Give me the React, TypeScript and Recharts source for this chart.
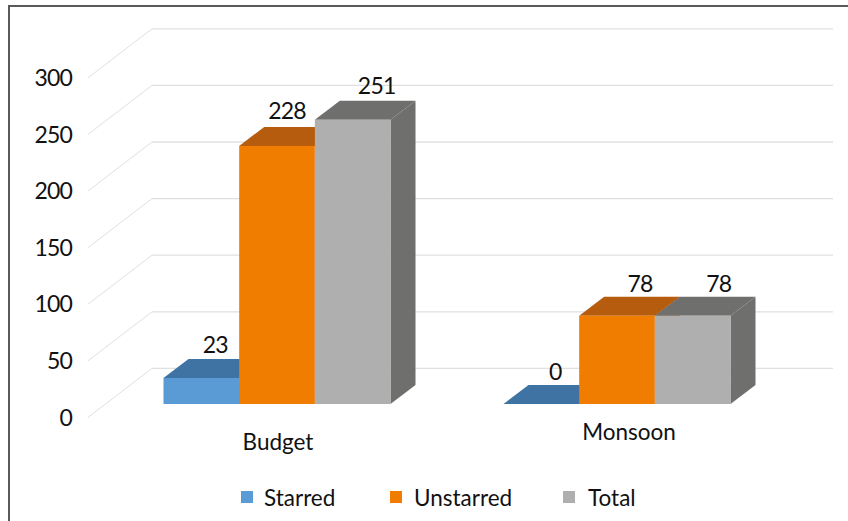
import React from "react";
import { BarChart, Bar, XAxis, YAxis, CartesianGrid, Legend, LabelList } from "recharts";

const categories = ["Budget", "Monsoon"];
const starred = [23, 0];
const unstarred = [228, 78];
const total = [251, 78];
const yTicks = [0, 50, 100, 150, 200, 250, 300];

const rows = categories.map((name, i) => ({
  name,
  Starred: starred[i],
  Unstarred: unstarred[i],
  Total: total[i],
}));

const FONT = "Lato, Carlito, Calibri, sans-serif";
const TEXT_SIZE = 22.5;
const NUMBER_SIZE = 23;
const NUMBER_SPACING = "-0.8px";
const DEPTH_X = 25;
const DEPTH_Y = 19;
const WALL_X = 64;
const WALL_Y = 49;
const WALL_RIGHT = 833;
const AXIS_OUT = 19.5;
const FRONT_LIFT = 13.4;

const STYLES: Record<string, { front: string; top: string; side: string }> = {
  Starred: { front: "#5B9BD5", top: "#3E73A3", side: "#3E73A3" },
  Unstarred: { front: "#F07D00", top: "#B55C0F", side: "#B55C0F" },
  Total: { front: "#AFAFAF", top: "#6F6F6D", side: "#6F6F6D" },
};

const LABEL_DX: Record<string, number[]> = {
  Starred: [14, 14],
  Unstarred: [10, 23],
  Total: [24, 26],
};
const LABEL_LIFT: Record<string, number[]> = {
  Starred: [34, 33],
  Unstarred: [35.5, 33],
  Total: [35, 33],
};
const CATEGORY_NUDGE: Record<string, { dx: number; y: number }> = {
  Budget: { dx: 0.5, y: 441 },
  Monsoon: { dx: 11.5, y: 431 },
};
const LEGEND_SPOTS: Record<string, { box: number; text: number }> = {
  Starred: { box: 241, text: 264 },
  Unstarred: { box: 390, text: 414 },
  Total: { box: 563, text: 588 },
};

function box(name: string) {
  const c = STYLES[name];
  return (p: any) => {
    const { x, width: w, height: h } = p;
    const y = p.y - FRONT_LIFT;
    const dx = DEPTH_X;
    const dy = DEPTH_Y;
    return (
      <g>
        <polygon points={`${x + w},${y} ${x + w + dx},${y - dy} ${x + w + dx},${y + h - dy} ${x + w},${y + h}`} fill={c.side} />
        <polygon points={`${x},${y} ${x + dx},${y - dy} ${x + w + dx},${y - dy} ${x + w},${y}`} fill={c.top} />
        <rect x={x} y={y} width={w} height={Math.max(h, 0)} fill={c.front} />
      </g>
    );
  };
}

function dataLabel(name: string) {
  return (p: any) => (
    <text
      x={p.x + p.width / 2 + LABEL_DX[name][p.index]}
      y={p.y - FRONT_LIFT - LABEL_LIFT[name][p.index]}
      textAnchor="middle"
      dominantBaseline="central"
      fontFamily={FONT}
      fontSize={NUMBER_SIZE}
      letterSpacing={NUMBER_SPACING}
      fill="#111"
    >
      {p.value}
    </text>
  );
}

function wallLine(p: any) {
  const { x1, y1, index } = p;
  const sx = x1 - AXIS_OUT;
  const ex = sx + WALL_X;
  const ey = y1 - WALL_Y;
  return (
    <g key={`wall-${index}`}>
      <line x1={sx} y1={y1} x2={ex} y2={ey} stroke="#E0E0E0" strokeWidth={1} />
      <line x1={ex} y1={ey} x2={WALL_RIGHT} y2={ey} stroke="#E0E0E0" strokeWidth={1.3} />
    </g>
  );
}

function categoryTick(p: any) {
  const name = p.payload.value;
  const n = CATEGORY_NUDGE[name];
  return (
    <text x={p.x + n.dx} y={n.y} textAnchor="middle" dominantBaseline="central" fontFamily={FONT} fontSize={TEXT_SIZE} fill="#111">
      {name}
    </text>
  );
}

function legendContent(p: any) {
  return (
    <div style={{ position: "relative", width: 848, height: 30, fontFamily: FONT, fontSize: TEXT_SIZE, color: "#111" }}>
      {p.payload.map((e: any) => {
        const s = LEGEND_SPOTS[e.value];
        return (
          <React.Fragment key={e.value}>
            <span style={{ position: "absolute", left: s.box, top: 8, width: 12, height: 12, background: STYLES[e.value].front }} />
            <span style={{ position: "absolute", left: s.text, top: 0, lineHeight: "30px", whiteSpace: "nowrap" }}>{e.value}</span>
          </React.Fragment>
        );
      })}
    </div>
  );
}

export default function App() {
  return (
    <div style={{ position: "absolute", left: 0, top: 0, width: 848, height: 521, overflow: "hidden", background: "#fff" }}>
      <div style={{ position: "absolute", left: 8, top: 5, width: 900, height: 600, borderLeft: "2px solid #5a5a5a", borderTop: "2px solid #5a5a5a" }} />
      <div style={{ position: "absolute", left: 0, top: 0 }}>
        <BarChart
          width={848}
          height={521}
          data={rows}
          margin={{ left: 7.5, right: 60.5, top: 77.8, bottom: 0 }}
          barGap={0}
          barSize={75.67}
        >
          <CartesianGrid vertical={false} horizontal={wallLine} fill="none" horizontalValues={yTicks} />
          <XAxis dataKey="name" axisLine={false} tickLine={false} tick={categoryTick} interval={0} height={73.6} />
          <YAxis
            domain={[0, 300]}
            ticks={yTicks}
            interval={0}
            width={100}
            axisLine={false}
            tickLine={false}
            tickSize={0}
            tickMargin={35.5}
            tick={{ fontFamily: FONT, fontSize: NUMBER_SIZE, fill: "#111", letterSpacing: NUMBER_SPACING }}
          />
          {["Starred", "Unstarred", "Total"].map((k) => (
            <Bar key={k} dataKey={k} fill={STYLES[k].front} shape={box(k)} isAnimationActive={false}>
              <LabelList dataKey={k} content={dataLabel(k)} />
            </Bar>
          ))}
          <Legend content={legendContent} wrapperStyle={{ left: 0, top: 483, width: 848, height: 30 }} />
        </BarChart>
      </div>
    </div>
  );
}
